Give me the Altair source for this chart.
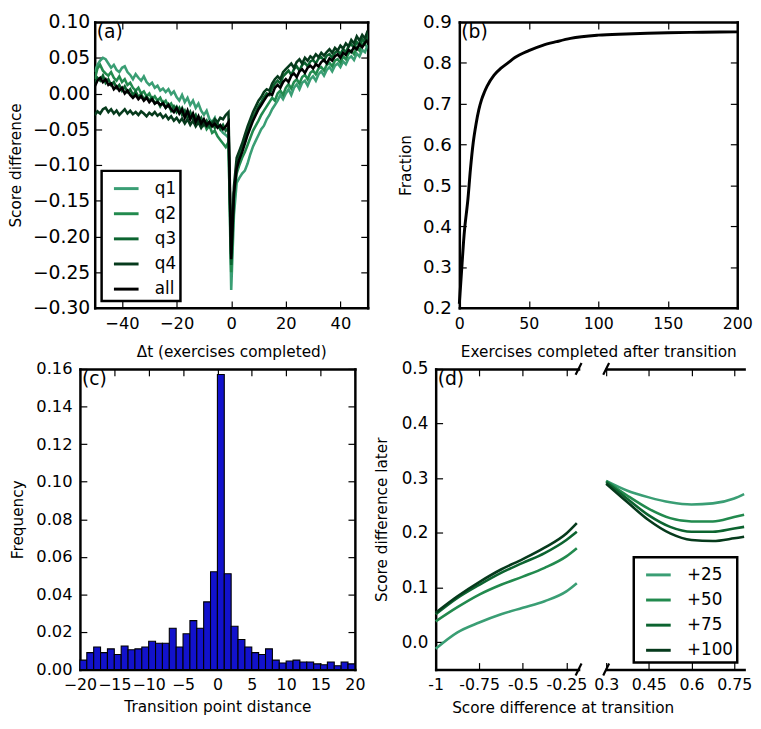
import altair as alt
import pandas as pd

FONT = "DejaVu Sans"
XLBL = 16
TTL = 15.5
TICK_LEN = 7

# ---------------- panel (a) data ----------------
dt = list(range(-50, 51))
a_series = ["q1", "q2", "q3", "q4", "all"]
a_colors = ["#3a9e74", "#228a4e", "#0c6430", "#063a1c", "#000000"]
q1 = [0.030, 0.040, 0.046, 0.050, 0.048, 0.042, 0.036, 0.040, 0.033, 0.030,
      0.036, 0.038, 0.030, 0.026, 0.020, 0.027, 0.022, 0.018, 0.024, 0.016,
      0.012, 0.015, 0.008, 0.011, 0.004, 0.007, 0.002, 0.006, -0.001, 0.003,
      -0.005, -0.010, -0.002, -0.012, -0.006, -0.016, -0.010, -0.020, -0.014, -0.024,
      -0.030, -0.024, -0.036, -0.040, -0.034, -0.046, -0.050, -0.055, -0.058, -0.062,
      -0.275,
      -0.170, -0.125, -0.118, -0.112, -0.108, -0.098, -0.085, -0.074, -0.066, -0.058,
      -0.050, -0.045, -0.036, -0.030, -0.022, -0.016, -0.010, -0.002, -0.008, 0.000,
      0.006, -0.002, 0.008, 0.013, 0.006, 0.015, 0.018, 0.011, 0.020, 0.024,
      0.018, 0.027, 0.031, 0.025, 0.033, 0.037, 0.031, 0.039, 0.042, 0.037,
      0.045, 0.041, 0.049, 0.052, 0.047, 0.056, 0.052, 0.061, 0.058, 0.068]
q2 = [0.020, 0.035, 0.040, 0.032, 0.028, 0.025, 0.030, 0.022, 0.018, 0.024,
      0.016, 0.020, 0.012, 0.015, 0.008, 0.004, 0.008, 0.000, 0.003, -0.004,
      0.000, -0.008, -0.004, -0.010, -0.006, -0.014, -0.010, -0.018, -0.014, -0.022,
      -0.018, -0.026, -0.020, -0.030, -0.025, -0.035, -0.030, -0.040, -0.034, -0.045,
      -0.040, -0.050, -0.045, -0.055, -0.052, -0.060, -0.065, -0.070, -0.075, -0.068,
      -0.250,
      -0.150, -0.112, -0.100, -0.090, -0.082, -0.072, -0.062, -0.052, -0.045, -0.038,
      -0.030, -0.024, -0.018, -0.012, -0.006, -0.010, 0.000, 0.004, -0.002, 0.008,
      0.013, 0.007, 0.016, 0.020, 0.014, 0.023, 0.026, 0.020, 0.029, 0.032,
      0.027, 0.035, 0.037, 0.032, 0.040, 0.043, 0.038, 0.046, 0.048, 0.043,
      0.052, 0.048, 0.056, 0.060, 0.055, 0.064, 0.060, 0.070, 0.068, 0.085]
q3 = [0.012, 0.022, 0.018, 0.025, 0.015, 0.020, 0.012, 0.016, 0.008, 0.012,
      0.004, 0.010, 0.002, 0.006, -0.002, 0.003, -0.005, -0.001, -0.008, -0.004,
      -0.010, -0.006, -0.014, -0.010, -0.018, -0.012, -0.020, -0.015, -0.024, -0.018,
      -0.026, -0.020, -0.030, -0.024, -0.034, -0.026, -0.036, -0.030, -0.040, -0.034,
      -0.044, -0.038, -0.046, -0.040, -0.048, -0.042, -0.050, -0.044, -0.052, -0.048,
      -0.240,
      -0.140, -0.100, -0.088, -0.078, -0.066, -0.054, -0.044, -0.034, -0.026, -0.018,
      -0.012, -0.005, 0.000, -0.002, 0.008, 0.014, 0.018, 0.014, 0.024, 0.028,
      0.032, 0.026, 0.034, 0.038, 0.032, 0.040, 0.043, 0.038, 0.045, 0.047,
      0.042, 0.049, 0.051, 0.046, 0.053, 0.055, 0.050, 0.057, 0.060, 0.055,
      0.062, 0.058, 0.066, 0.069, 0.064, 0.072, 0.068, 0.076, 0.071, 0.080]
q4 = [-0.030, -0.025, -0.028, -0.022, -0.020, -0.026, -0.022, -0.028, -0.024, -0.030,
      -0.026, -0.022, -0.028, -0.024, -0.029, -0.026, -0.030, -0.025, -0.028, -0.032,
      -0.027, -0.030, -0.026, -0.031, -0.028, -0.034, -0.030, -0.036, -0.032, -0.038,
      -0.034, -0.040, -0.035, -0.042, -0.036, -0.044, -0.038, -0.046, -0.040, -0.048,
      -0.042, -0.046, -0.040, -0.044, -0.036, -0.040, -0.034, -0.036, -0.030, -0.026,
      -0.225,
      -0.130, -0.090, -0.080, -0.070, -0.058, -0.046, -0.036, -0.026, -0.018, -0.010,
      -0.005, 0.002, 0.006, 0.004, 0.014, 0.020, 0.024, 0.020, 0.030, 0.034,
      0.038, 0.042, 0.036, 0.044, 0.048, 0.042, 0.050, 0.046, 0.052, 0.049,
      0.055, 0.051, 0.057, 0.053, 0.058, 0.062, 0.057, 0.064, 0.060, 0.067,
      0.063, 0.070, 0.066, 0.075, 0.070, 0.080, 0.074, 0.082, 0.077, 0.088]
q_all = [0.010, 0.018, 0.022, 0.016, 0.020, 0.012, 0.014, 0.006, 0.010, 0.004,
         0.008, 0.000, 0.004, -0.002, -0.006, -0.002, -0.008, -0.004, -0.010, -0.006,
         -0.012, -0.008, -0.014, -0.012, -0.016, -0.014, -0.020, -0.016, -0.022, -0.026,
         -0.020, -0.028, -0.022, -0.034, -0.024, -0.036, -0.028, -0.040, -0.032, -0.042,
         -0.036, -0.044, -0.040, -0.046, -0.042, -0.048, -0.044, -0.050, -0.046, -0.040,
         -0.232,
         -0.140, -0.105, -0.092, -0.082, -0.070, -0.058, -0.048, -0.038, -0.030, -0.022,
         -0.016, -0.010, -0.004, 0.000, -0.002, 0.008, 0.012, 0.008, 0.016, 0.020,
         0.016, 0.025, 0.028, 0.023, 0.031, 0.034, 0.029, 0.036, 0.039, 0.035,
         0.041, 0.038, 0.044, 0.047, 0.042, 0.049, 0.046, 0.052, 0.055, 0.050,
         0.057, 0.054, 0.061, 0.058, 0.065, 0.062, 0.069, 0.065, 0.071, 0.075]

# ---------------- panel (b) data ----------------
exercises = [0, 1, 2, 3, 4, 5, 6, 8, 10, 12, 14, 16, 18, 20, 25, 30, 35, 40,
             50, 60, 70, 80, 100, 120, 150, 175, 200]
fraction = [0.21, 0.26, 0.31, 0.36, 0.40, 0.43, 0.46, 0.54, 0.605, 0.65, 0.685,
            0.71, 0.728, 0.743, 0.77, 0.787, 0.80, 0.813, 0.83, 0.843, 0.852,
            0.86, 0.868, 0.871, 0.874, 0.875, 0.876]

# ---------------- panel (c) data ----------------
bin_start = list(range(-20, 20))
freq = [0.005, 0.009, 0.012, 0.009, 0.011, 0.008, 0.0125, 0.0105, 0.011, 0.012,
        0.015, 0.014, 0.014, 0.022, 0.012, 0.019, 0.026, 0.022, 0.036, 0.052,
        0.157, 0.051, 0.023, 0.016, 0.012, 0.009, 0.008, 0.011, 0.005, 0.0035,
        0.0045, 0.005, 0.004, 0.004, 0.003, 0.0025, 0.004, 0.002, 0.004, 0.003]

# ---------------- panel (d) data ----------------
d_series = ["+25", "+50", "+75", "+100"]
d_colors = ["#3a9e74", "#228a4e", "#0c6430", "#063a1c"]
d_left_x = [-1.0, -0.875, -0.75, -0.625, -0.5, -0.375, -0.25, -0.19]
d_left = {
    "+25": [-0.012, 0.018, 0.036, 0.051, 0.063, 0.075, 0.093, 0.108],
    "+50": [0.038, 0.064, 0.087, 0.105, 0.120, 0.136, 0.157, 0.172],
    "+75": [0.051, 0.081, 0.105, 0.127, 0.145, 0.163, 0.187, 0.202],
    "+100": [0.054, 0.084, 0.110, 0.133, 0.152, 0.173, 0.199, 0.218],
}
d_right_x = [0.3, 0.375, 0.45, 0.525, 0.6, 0.675, 0.75, 0.785]
d_right = {
    "+25": [0.295, 0.277, 0.265, 0.256, 0.252, 0.254, 0.263, 0.271],
    "+50": [0.295, 0.268, 0.244, 0.227, 0.221, 0.221, 0.229, 0.233],
    "+75": [0.293, 0.262, 0.232, 0.211, 0.202, 0.202, 0.208, 0.211],
    "+100": [0.290, 0.256, 0.223, 0.199, 0.187, 0.185, 0.190, 0.193],
}

# ---------------- tables ----------------
df_a = pd.DataFrame([
    {"dt": x, "value": v, "series": name}
    for name, vals in zip(a_series, [q1, q2, q3, q4, q_all])
    for x, v in zip(dt, vals)
])
df_b = pd.DataFrame({"ex": exercises, "frac": fraction})
df_c = pd.DataFrame({"start": bin_start, "end": [s + 1 for s in bin_start], "freq": freq})
df_dl = pd.DataFrame([
    {"x": x, "value": v, "series": s}
    for s in d_series for x, v in zip(d_left_x, d_left[s])
])
df_dr = pd.DataFrame([
    {"x": x, "value": v, "series": s}
    for s in d_series for x, v in zip(d_right_x, d_right[s])
])


# ---------------- helpers ----------------
def tick_axis(orient, offset, values, domain=True):
    return alt.Axis(orient=orient, offset=offset, values=values, labels=False, title=None,
                    grid=False, ticks=True, tickSize=TICK_LEN, tickWidth=1.2, tickColor="black",
                    domain=domain, domainColor="black", domainWidth=2.5, domainCap="square")


def label_axis(orient, values, title=None, fmt=None, label_expr=None,
               label_padding=6, title_padding=10, size=XLBL, offset=0):
    kw = dict(orient=orient, values=values, title=title, grid=False, ticks=False, tickSize=0,
              domain=False, labelFontSize=size, labelColor="black", labelFont=FONT,
              labelPadding=label_padding, labelFlush=False, labelOverlap=False,
              titleFontSize=TTL, titleFontWeight="normal", titleColor="black",
              titleFont=FONT, titlePadding=title_padding, offset=offset)
    if fmt is not None:
        kw["format"] = fmt
    if label_expr is not None:
        kw["labelExpr"] = label_expr
    return alt.Axis(**kw)


def panel_label(text, x0=0):
    return alt.Chart(pd.DataFrame({"t": [text]})).mark_text(
        align="left", baseline="top", fontSize=19, font=FONT, color="black"
    ).encode(x=alt.value(x0 + 2), y=alt.value(1), text="t:N")


def tick_layers(df, xf, yf, xs, ys, view_w, H, xt, yt, left=True, right=True, x0=0, x1=None):
    # x0 / x1: left and right edges of the plot frame in view coordinates
    if x1 is None:
        x1 = view_w
    inner_b = alt.Chart(df).mark_point(opacity=0).encode(
        x=alt.X(xf, scale=xs, axis=tick_axis("top", -H, xt)),
        y=alt.Y(yf, scale=ys, axis=tick_axis("right", x0 - view_w, yt) if left else None),
    )
    inner_t = alt.Chart(df).mark_point(opacity=0).encode(
        x=alt.X(xf, scale=xs, axis=tick_axis("bottom", -H, xt)),
        y=alt.Y(yf, scale=ys, axis=tick_axis("left", -x1, yt) if right else None),
    )
    return [inner_b, inner_t]


# ---------------- panel (a) ----------------
W_A, H_A = 277, 290
xs_a = alt.Scale(domain=[-50, 50], nice=False, zero=False)
ys_a = alt.Scale(domain=[-0.30, 0.10], nice=False, zero=False)
xt_a = [-40, -20, 0, 20, 40]
yt_a = [-0.30, -0.25, -0.20, -0.15, -0.10, -0.05, 0.0, 0.05, 0.10]

a_main = alt.Chart(df_a).mark_line(strokeWidth=2.6, clip=True).encode(
    x=alt.X("dt:Q", scale=xs_a,
            axis=label_axis("bottom", xt_a, "Δt (exercises completed)",
                            label_padding=8, title_padding=13, size=16.5)),
    y=alt.Y("value:Q", scale=ys_a,
            axis=label_axis("left", yt_a, "Score difference", fmt=".2f",
                            label_padding=5, title_padding=9, size=19)),
    color=alt.Color("series:N", sort=a_series,
                    scale=alt.Scale(domain=a_series, range=a_colors),
                    legend=alt.Legend(title=None, orient="bottom-left")),
)
panel_a = alt.layer(
    a_main, *tick_layers(df_a, "dt:Q", "value:Q", xs_a, ys_a, W_A, H_A, xt_a, yt_a),
    panel_label("(a)")
).properties(width=W_A, height=H_A)

# ---------------- panel (b) ----------------
W_B, H_B = 282, 290
xs_b = alt.Scale(domain=[0, 200], nice=False, zero=False)
ys_b = alt.Scale(domain=[0.2, 0.9], nice=False, zero=False)
xt_b = [0, 50, 100, 150, 200]
yt_b = [0.2, 0.3, 0.4, 0.5, 0.6, 0.7, 0.8, 0.9]
b_main = alt.Chart(df_b).mark_line(strokeWidth=3, color="black", interpolate="monotone").encode(
    x=alt.X("ex:Q", scale=xs_b,
            axis=label_axis("bottom", xt_b, "Exercises completed after transition",
                            label_padding=8, title_padding=13)),
    y=alt.Y("frac:Q", scale=ys_b,
            axis=label_axis("left", yt_b, "Fraction", fmt=".1f", label_padding=8,
                            title_padding=9, size=18.5)),
)
panel_b = alt.layer(
    b_main, *tick_layers(df_b, "ex:Q", "frac:Q", xs_b, ys_b, W_B, H_B, xt_b, yt_b),
    panel_label("(b)")
).properties(width=W_B, height=H_B)

# ---------------- panel (c) ----------------
# the frame of (c) starts SHIFT_C px left of the view origin, so that it sits
# further left than panel (a), as in the original figure
SHIFT_C = 15
W_C, H_C = 279, 305
VW_C = W_C - SHIFT_C
xs_c = alt.Scale(domain=[-20, 20], nice=False, zero=False, range=[-SHIFT_C, VW_C])
ys_c = alt.Scale(domain=[0, 0.16], nice=False, zero=False)
xt_c = [-20, -15, -10, -5, 0, 5, 10, 15, 20]
yt_c = [0.0, 0.02, 0.04, 0.06, 0.08, 0.10, 0.12, 0.14, 0.16]
c_main = alt.Chart(df_c).mark_bar(color="#1212cc", stroke="black", strokeWidth=1.1).encode(
    x=alt.X("start:Q", scale=xs_c,
            axis=label_axis("bottom", xt_c, "Transition point distance",
                            label_padding=7, title_padding=8)),
    x2="end:Q",
    y=alt.Y("freq:Q", scale=ys_c,
            axis=label_axis("left", yt_c, "Frequency", fmt=".2f", label_padding=8,
                            title_padding=11, size=16.5, offset=SHIFT_C)),
    y2=alt.datum(0),
)
panel_c = alt.layer(
    c_main,
    *tick_layers(df_c, "start:Q", "freq:Q", xs_c, ys_c, VW_C, H_C, xt_c, yt_c,
                 x0=-SHIFT_C, x1=VW_C),
    panel_label("(c)", x0=-SHIFT_C)
).properties(width=VW_C, height=H_C)

# ---------------- panel (d) ----------------
W_D1, W_D2, H_D = 145, 140, 305
GAP = 28
ys_d = alt.Scale(domain=[-0.05, 0.5], nice=False, zero=False)
yt_d = [0.0, 0.1, 0.2, 0.3, 0.4, 0.5]
xs_dl = alt.Scale(domain=[-1.0, -0.18], nice=False, zero=False)
xs_dr = alt.Scale(domain=[0.3, 0.785], nice=False, zero=False)
xt_dl = [-1.0, -0.75, -0.5, -0.25]
xt_dr = [0.3, 0.45, 0.6, 0.75]
d_color_scale = alt.Scale(domain=d_series, range=d_colors)


def break_marks(xpos):
    one = pd.DataFrame({"k": [0]})
    top = alt.Chart(one).mark_rule(color="black", strokeWidth=2.2).encode(
        x=alt.value(xpos - 3), x2=alt.value(xpos + 3), y=alt.value(6), y2=alt.value(-6))
    bot = alt.Chart(one).mark_rule(color="black", strokeWidth=2.2).encode(
        x=alt.value(xpos - 3), x2=alt.value(xpos + 3), y=alt.value(H_D + 6), y2=alt.value(H_D - 6))
    return [top, bot]


dl_main = alt.Chart(df_dl).mark_line(strokeWidth=2.6, interpolate="monotone").encode(
    x=alt.X("x:Q", scale=xs_dl,
            axis=label_axis("bottom", xt_dl, None, label_padding=7,
                            label_expr="'-' + format(abs(datum.value), '')")),
    y=alt.Y("value:Q", scale=ys_d,
            axis=label_axis("left", yt_d, "Score difference later", fmt=".1f",
                            label_padding=8, title_padding=12, size=17)),
    color=alt.Color("series:N", sort=d_series, scale=d_color_scale, legend=None),
)
panel_dl = alt.layer(
    dl_main,
    *tick_layers(df_dl, "x:Q", "value:Q", xs_dl, ys_d, W_D1, H_D, xt_dl, yt_d, left=True, right=False),
    *break_marks(W_D1),
    panel_label("(d)")
).properties(width=W_D1, height=H_D)

dr_main = alt.Chart(df_dr).mark_line(strokeWidth=2.6, interpolate="monotone").encode(
    x=alt.X("x:Q", scale=xs_dr,
            axis=label_axis("bottom", xt_dr, None, label_padding=7,
                            label_expr="format(datum.value, '')")),
    y=alt.Y("value:Q", scale=ys_d, axis=None),
    color=alt.Color("series:N", sort=d_series, scale=d_color_scale,
                    legend=alt.Legend(title=None, orient="bottom-right")),
)
panel_dr = alt.layer(
    dr_main,
    *tick_layers(df_dr, "x:Q", "value:Q", xs_dr, ys_d, W_D2, H_D, xt_dr, yt_d, left=False, right=True),
    *break_marks(0),
).properties(width=W_D2, height=H_D)

panel_d = alt.hconcat(
    panel_dl, panel_dr, spacing=GAP, bounds="flush",
    title=alt.TitleParams("Score difference at transition", orient="bottom", anchor="middle",
                          fontSize=TTL, fontWeight="normal", font=FONT, color="black", offset=9),
).resolve_scale(color="independent")

row1 = alt.hconcat(panel_a, panel_b, spacing=28).resolve_scale(color="independent")
row2 = alt.hconcat(panel_c, panel_d, spacing=4).resolve_scale(color="independent")

chart = alt.vconcat(row1, row2, spacing=0).resolve_scale(
    color="independent"
).properties(padding=0).configure(font=FONT).configure_view(strokeWidth=0).configure_legend(
    strokeColor="black", strokeWidth=2.5, fillColor="white", padding=4,
    symbolType="stroke", symbolSize=625, symbolStrokeWidth=3, symbolOffset=7,
    labelOffset=15, labelFontSize=17, labelFont=FONT, labelColor="black",
    rowPadding=3.5, offset=7,
)

chart.save("out.html", embed_options={"renderer": "svg", "actions": False})
